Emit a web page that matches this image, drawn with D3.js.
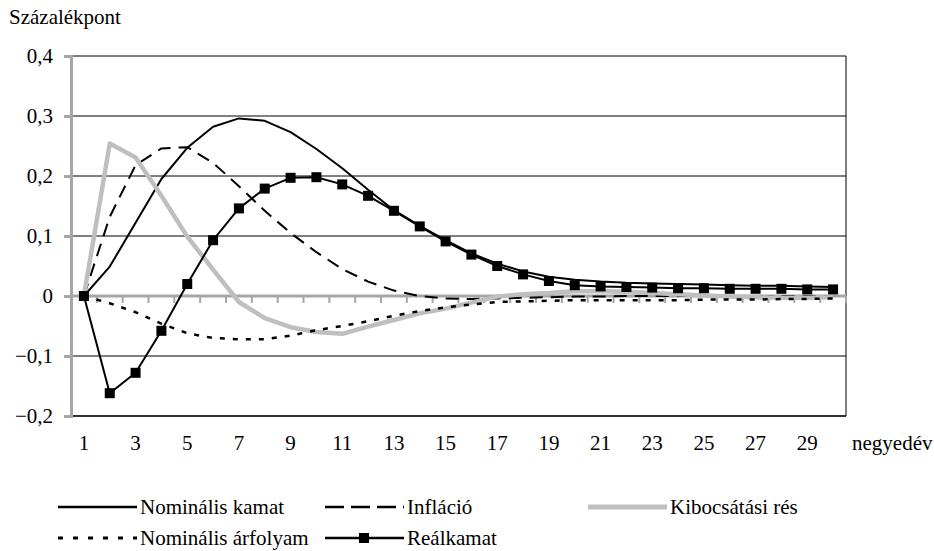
<!DOCTYPE html>
<html><head><meta charset="utf-8">
<script src="https://cdn.jsdelivr.net/npm/d3@7"></script>
<style>body{margin:0;background:#fff}svg{display:block}</style>
</head><body><svg id="c" width="934" height="551"></svg>
<script>
const categories = d3.range(1, 31);
const nominalisKamat = [0,0.049,0.122,0.195,0.247,0.282,0.296,0.292,0.273,0.245,0.213,0.177,0.143,0.117,0.093,0.071,0.054,0.041,0.032,0.027,0.024,0.022,0.021,0.020,0.019,0.018,0.017,0.017,0.016,0.015];
const inflacio = [0,0.132,0.218,0.246,0.248,0.222,0.183,0.142,0.105,0.073,0.045,0.024,0.009,0.000,-0.004,-0.005,-0.004,-0.003,-0.002,-0.001,-0.001,0,0,0,0,0,0,0,0,0];
const kibocsatasiRes = [0,0.254,0.231,0.167,0.099,0.044,-0.010,-0.037,-0.052,-0.060,-0.063,-0.051,-0.040,-0.029,-0.021,-0.011,-0.001,0.003,0.005,0.008,0.008,0.007,0.005,0.003,0.001,-0.001,-0.002,-0.003,-0.003,-0.002];
const nominalisArfolyam = [0,-0.012,-0.027,-0.046,-0.062,-0.070,-0.072,-0.072,-0.066,-0.057,-0.050,-0.042,-0.033,-0.025,-0.019,-0.014,-0.010,-0.009,-0.008,-0.007,-0.007,-0.007,-0.007,-0.007,-0.006,-0.006,-0.006,-0.005,-0.005,-0.004];
const realkamat = [0,-0.162,-0.128,-0.058,0.020,0.093,0.146,0.179,0.197,0.198,0.186,0.167,0.142,0.116,0.091,0.069,0.050,0.036,0.025,0.018,0.016,0.015,0.014,0.013,0.013,0.012,0.012,0.012,0.011,0.011];
const yTicks = [-0.2,-0.1,0,0.1,0.2,0.3,0.4];
const xTickLabels = categories.filter(d => d % 2 === 1);
const seriesNames = ["Nominális kamat","Infláció","Kibocsátási rés","Nominális árfolyam","Reálkamat"];

const FONT = "'Liberation Serif', 'Times New Roman', serif";
const FS = 21;
const svg = d3.select("#c");
const L = 71, R = 846, T = 56, B = 416;
const x = d3.scaleBand().domain(categories).range([L, R]);
const y = d3.scaleLinear().domain([-0.2, 0.4]).range([B, T]);
const cx = d => x(d) + x.bandwidth() / 2;
const fmt = v => v === 0 ? "0" : d3.format(".1f")(v).replace(".", ",");
const txt = (sel) => sel.style("font-family", FONT).style("font-size", FS + "px").attr("fill", "#000");

// gridlines
svg.append("g").selectAll("line").data(yTicks.filter(v => v !== 0)).join("line")
  .attr("x1", L).attr("x2", R).attr("y1", d => y(d)).attr("y2", d => y(d))
  .attr("stroke", d => d === -0.2 ? "#333" : "#000").attr("stroke-width", d => d === -0.2 ? 2 : 1);
svg.append("line").attr("x1", R).attr("x2", R).attr("y1", T).attr("y2", B).attr("stroke", "#000").attr("stroke-width", 1);

// y axis
const yAxis = d3.axisLeft(y).tickValues(yTicks).tickSize(7).tickFormat(fmt);
const gy = svg.append("g").attr("transform", `translate(${L},0)`).call(yAxis);
gy.select(".domain").attr("stroke", "#a6a6a6").attr("stroke-width", 3);
gy.selectAll(".tick line").attr("stroke", "#a6a6a6").attr("stroke-width", 3);
gy.selectAll(".tick text").call(txt).attr("x", -18).attr("dy", "0.33em");

// x axis at zero
const gx = svg.append("g");
gx.append("line").attr("x1", L).attr("x2", R).attr("y1", y(0)).attr("y2", y(0)).attr("stroke", "#a6a6a6").attr("stroke-width", 3);
gx.selectAll(".tk").data(categories.concat([31])).join("line").attr("class","tk")
  .attr("x1", d => d === 31 ? R : x(d)).attr("x2", d => d === 31 ? R : x(d))
  .attr("y1", y(0)).attr("y2", y(0) + 7).attr("stroke", "#a6a6a6").attr("stroke-width", 2);
svg.append("g").selectAll("text").data(xTickLabels).join("text")
  .attr("x", d => cx(d)).attr("y", 450).attr("text-anchor", "middle").call(txt).text(d => d);
svg.append("text").attr("x", 852).attr("y", 450).call(txt).text("negyedév");
svg.append("text").attr("x", 9).attr("y", 24).call(txt).text("Százalékpont");

const line = d3.line().x((d, i) => cx(categories[i])).y(d => y(d));
const styles = [
  {data: nominalisKamat, stroke: "#000", w: 2, dash: null, ldash: null},
  {data: inflacio, stroke: "#000", w: 2, dash: "13,8", ldash: "19,7"},
  {data: kibocsatasiRes, stroke: "#bfbfbf", w: 4.5, dash: null, ldash: null},
  {data: nominalisArfolyam, stroke: "#000", w: 2.5, dash: "5,8", ldash: "5,10"},
  {data: realkamat, stroke: "#000", w: 2, dash: null, ldash: null, marker: true}
];
styles.forEach(s => {
  svg.append("path").datum(s.data).attr("d", line).attr("fill", "none")
    .attr("stroke", s.stroke).attr("stroke-width", s.w).attr("stroke-dasharray", s.dash).attr("stroke-linejoin", "round");
  if (s.marker) {
    svg.append("g").selectAll("rect").data(s.data).join("rect")
      .attr("x", (d, i) => cx(categories[i]) - 5).attr("y", d => y(d) - 5).attr("width", 10).attr("height", 10).attr("fill", "#000");
  }
});

// legend
const leg = [
  {i: 0, lx: 58, ly: 507},
  {i: 1, lx: 325, ly: 507},
  {i: 2, lx: 588, ly: 507},
  {i: 3, lx: 58, ly: 538},
  {i: 4, lx: 325, ly: 538}
];
leg.forEach(o => {
  const s = styles[o.i];
  const g = svg.append("g");
  g.append("line").attr("x1", o.lx).attr("x2", o.lx + 79).attr("y1", o.ly).attr("y2", o.ly)
    .attr("stroke", s.stroke).attr("stroke-width", s.w + (o.i === 2 ? 0.5 : 0.5)).attr("stroke-dasharray", s.ldash);
  if (s.marker) g.append("rect").attr("x", o.lx + 34).attr("y", o.ly - 5).attr("width", 10).attr("height", 10).attr("fill", "#000");
  g.append("text").attr("x", o.lx + 82).attr("y", o.ly + 7).call(txt).text(seriesNames[o.i]);
});
</script></body></html>
